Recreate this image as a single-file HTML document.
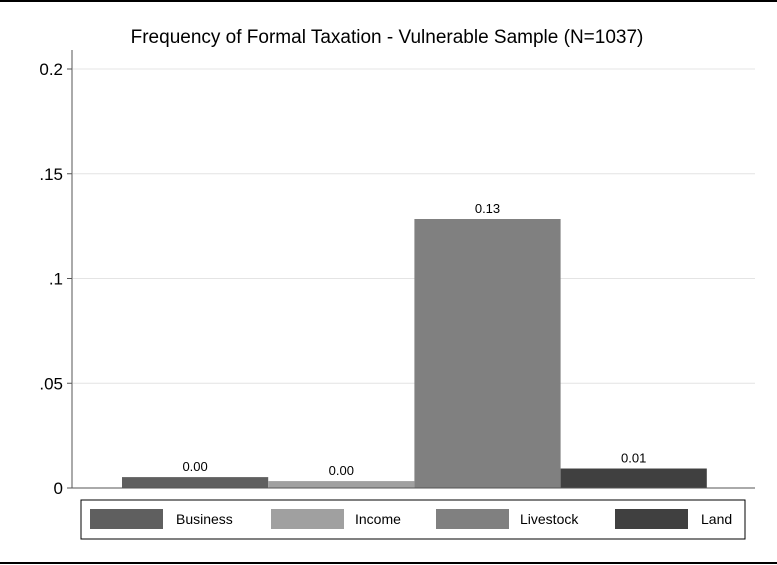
<!DOCTYPE html>
<html><head><meta charset="utf-8"><style>
body{margin:0;background:#fff;}
svg{display:block;font-family:"Liberation Sans",Arial,sans-serif;}
</style></head><body>
<svg id="chart" width="777" height="565" viewBox="0 0 777 565">
<rect x="0" y="0" width="777" height="565" fill="#fff"/>
<line x1="0" y1="1" x2="777" y2="1" stroke="#000" stroke-width="2"/>
<line x1="0" y1="563" x2="777" y2="563" stroke="#000" stroke-width="2"/>
<text x="387" y="43" font-size="19" text-anchor="middle" fill="#000">Frequency of Formal Taxation - Vulnerable Sample (N=1037)</text>
<g id="grid"></g><g id="bars"></g><g id="axes"></g>
<rect x="81" y="500" width="664" height="39" fill="#fff" stroke="#000" stroke-width="1"/>
<g id="legend"></g>
</svg>
<script>
const categories=["Business","Income","Livestock","Land"];
const values=[0.0052,0.0033,0.1284,0.0093];
const valueLabels=["0.00","0.00","0.13","0.01"];
const colors=["#5f5f5f","#a0a0a0","#808080","#404040"];
const ticks=[0,0.05,0.1,0.15,0.2];
const tickLabels=["0",".05",".1",".15","0.2"];
const NS="http://www.w3.org/2000/svg";
const y0=488,y1=69,vmax=0.2;
function y(v){return y0-(v/vmax)*(y0-y1);}
const barX0=122,barW=146.2;
function x(i){return barX0+i*barW;}
function mk(t,a,p){const e=document.createElementNS(NS,t);for(const k in a)e.setAttribute(k,a[k]);p.appendChild(e);return e;}
const grid=document.getElementById('grid'),axes=document.getElementById('axes'),bars=document.getElementById('bars'),legend=document.getElementById('legend');
ticks.forEach((t,i)=>{
  if(t>0){const g=mk('line',{x1:73,x2:755,y1:y(t),y2:y(t),stroke:'#e4e4e4','stroke-width':1},grid);
  
  }
  const tk=mk('line',{x1:67,x2:72,y1:y(t),y2:y(t),stroke:'#555'},axes);
  
  
  const lb=mk('text',{x:63,y:y(t)+6,'font-size':17,'text-anchor':'end',fill:'#000'},axes);
  lb.textContent=tickLabels[i];
  
  
});
const ya=mk('line',{x1:72,x2:72,y1:50,y2:488,stroke:'#555'},axes);


const xa=mk('line',{x1:72,x2:755,y1:488,y2:488,stroke:'#555'},axes);


values.forEach((v,i)=>{
  const r=mk('rect',{x:x(i),y:y(v),width:barW,height:y0-y(v),fill:colors[i]},bars);
  
  
  const t=mk('text',{x:x(i)+barW/2,y:y(v)-6,'font-size':13,'text-anchor':'middle',fill:'#000'},bars);
  t.textContent=valueLabels[i];
  
  
});
const lx=[90,271,436,615],tx=[176,355,520,701];
categories.forEach((c,i)=>{
  const s=mk('rect',{x:lx[i],y:509,width:73,height:20,fill:colors[i]},legend);
  
  
  const t=mk('text',{x:tx[i],y:524,'font-size':14,fill:'#000'},legend);
  t.textContent=c;
  
  
});
</script>
</body></html>
